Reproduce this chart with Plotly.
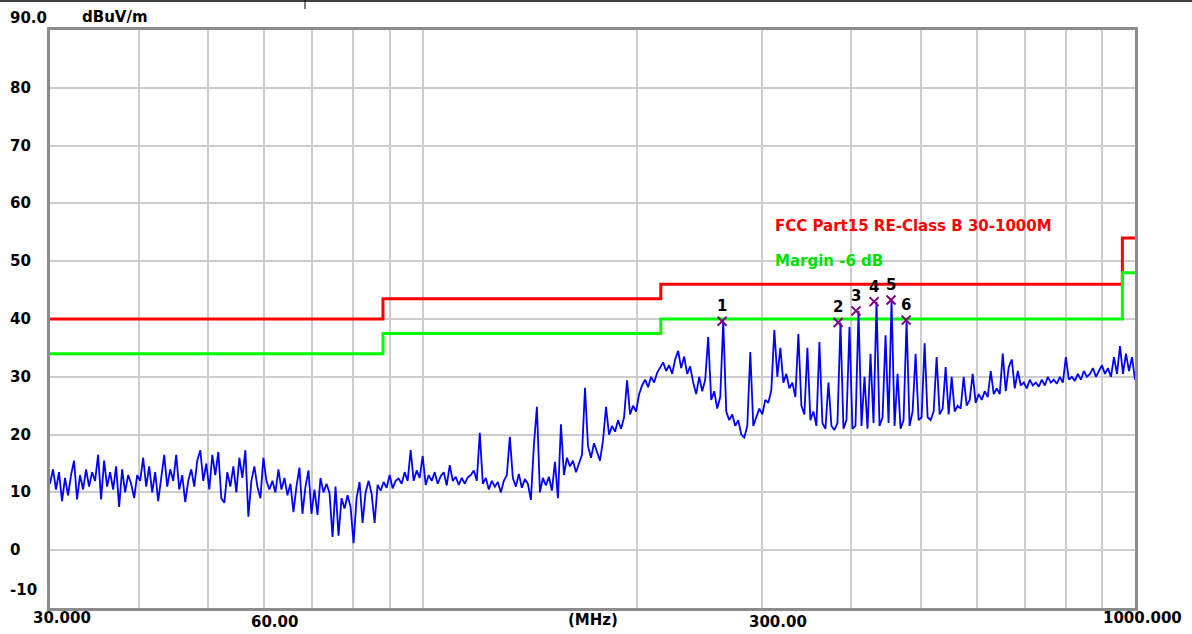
import numpy as np
import plotly.graph_objects as go

# ---------------- data ----------------
LEVEL = [
    11.5, 14, 10.5, 13.5, 8.5, 12.5, 9.5, 13, 15.5, 8.8,
    13, 10.5, 14, 11, 13.5, 12, 16.5, 8.8, 15.5, 11,
    13.5, 10.5, 14.5, 7.5, 14, 10, 13, 11.5, 9, 13,
    12, 16, 11, 14.5, 10, 13.5, 8.5, 12.5, 16.5, 11,
    14, 12, 16.5, 10.5, 13, 8.3, 12, 14, 11, 15.5,
    17.3, 12, 15, 10.5, 16.5, 13, 17, 9, 8.2, 13.5,
    11, 14.5, 10, 16, 12.5, 17.3, 5.8, 12, 14.5, 11,
    9, 16, 12, 10.5, 12, 10, 14, 10.5, 12.5, 9.5,
    11.5, 6.6, 11, 14.3, 6.3, 11, 13.8, 6.3, 10.5, 6.1,
    12.5, 10, 11.5, 9.9, 2.3, 11, 2.5, 9, 7.2, 9.5,
    7.5, 1.2, 9, 11.8, 4.7, 10, 12, 9.8, 4.7, 11.3,
    10.3, 11.8, 10.8, 13, 10.7, 12, 12.4, 11.5, 13.5, 12,
    17.3, 12, 13.8, 12.5, 16.3, 11.3, 13, 12, 13.5, 11.5,
    12.8, 13.5, 11.2, 14.7, 12, 12.7, 11.3, 12.5, 11.5, 12.6,
    13, 13.8, 12, 20.3, 11.5, 12.5, 10.5, 12, 11, 11.8,
    10, 12, 13, 19.6, 12.5, 11, 13.2, 10.8, 12.3, 11.5,
    8.7, 18.2, 24.8, 10, 12.5, 11.2, 12.7, 10.3, 15.3, 9,
    21.8, 13, 16, 14.5, 15.5, 13.5, 15, 16.5, 28.1, 18,
    16, 18.5, 17, 15.5, 19, 24.8, 20, 21.5, 20.5, 22.5,
    21, 23, 29.4, 23.5, 25, 24, 27, 28.5, 29.5, 28.2,
    30, 29, 30.7, 31.5, 32.5, 31, 32, 30.5, 33, 34.5,
    31.5, 33.5, 30.5, 31.8, 29, 27, 30, 27.5, 29.5, 36.9,
    26, 27.5, 24.5, 26.5, 39.6, 24, 22.5, 23.5, 21.5, 22.5,
    20, 19.5, 21.5, 34.3, 21.5, 23, 24.5, 23.5, 26, 25.5,
    27.7, 38.1, 30, 35, 29, 30.5, 28, 29, 26.5, 37.4,
    25, 23.5, 35, 22.5, 24, 21.5, 36, 22, 21, 29,
    21.5, 20.8, 22, 39.4, 21, 22.5, 38.6, 21, 21.5, 41.4,
    21.5, 30, 21, 34, 22, 43.0, 21.5, 23, 37.2, 22,
    43.3, 21.5, 30.5, 21, 22.5, 39.8, 21.5, 24, 34, 22.5,
    23, 35.8, 23, 22.5, 24, 33.4, 23.5, 24.5, 31.7, 23.5,
    30, 24, 25, 24.5, 30, 25, 26, 30.5, 25.5, 27,
    26, 27.5, 26.5, 31, 27, 28, 27, 34, 27.5, 31.7,
    33, 28, 31, 28.5, 29, 28, 29.5, 28.5, 29, 28.3,
    29.5, 28.5, 30, 29, 29.5, 28.8, 30, 29, 33.4, 29.5,
    30, 29.3, 30.5, 29.5, 31, 30, 30.5, 31.5, 30, 31,
    32, 30.5, 31.5, 30, 33.4, 30.5, 35.3, 30.5, 34, 31,
    33.4, 29.5,
]
SWEEP_START_MHZ = 30
SWEEP_STOP_MHZ = 1000
FREQ = np.geomspace(SWEEP_START_MHZ, SWEEP_STOP_MHZ, len(LEVEL))

LIMIT_FREQ = [30, 88, 88, 216, 216, 960, 960, 1000]
LIMIT_LEVEL = [40, 40, 43.5, 43.5, 46, 46, 54, 54]
MARGIN_LEVEL = [34, 34, 37.5, 37.5, 40, 40, 48, 48]

MARKER_NO = ["1", "2", "3", "4", "5", "6"]
MARKER_FREQ = [263.3, 383.1, 405.9, 430.3, 454.5, 477.3]
MARKER_LEVEL = [39.6, 39.4, 41.4, 43.0, 43.3, 39.8]

X_GRID = [40, 50, 60, 70, 80, 90, 100, 200, 300, 400, 500, 600, 700, 800, 900]
Y_GRID = [0, 10, 20, 30, 40, 50, 60, 70, 80]

X_TICK_VALUES = [30, 60, 300, 1000]
X_TICK_TEXT = ["30.000", "60.00", "300.00", "1000.000"]
Y_TICK_VALUES = [90, 80, 70, 60, 50, 40, 30, 20, 10, 0, -10]
Y_TICK_TEXT = ["90.0", "80", "70", "60", "50", "40", "30", "20", "10", "0", "-10"]

LIMIT_NAME = "FCC Part15 RE-Class B 30-1000M"
MARGIN_NAME = "Margin -6 dB"
Y_UNIT = "dBuV/m"
X_UNIT = "(MHz)"

# ---------------- figure ----------------
FONT = "DejaVu Sans"
fig = go.Figure()

fig.add_trace(go.Scatter(x=LIMIT_FREQ, y=LIMIT_LEVEL, mode="lines",
                         line=dict(color="#ff0000", width=3), hoverinfo="skip"))
fig.add_trace(go.Scatter(x=LIMIT_FREQ, y=MARGIN_LEVEL, mode="lines",
                         line=dict(color="#00ff00", width=3), hoverinfo="skip"))
fig.add_trace(go.Scatter(x=FREQ, y=LEVEL, mode="lines",
                         line=dict(color="#0000ff", width=1.8)))
fig.add_trace(go.Scatter(x=MARKER_FREQ, y=MARKER_LEVEL, mode="markers",
                         marker=dict(symbol="x-thin", size=9,
                                     line=dict(color="#800080", width=2))))

ann = []
for f, lv, t in zip(MARKER_FREQ, MARKER_LEVEL, MARKER_NO):
    ann.append(dict(x=np.log10(f), y=lv, xref="x", yref="y", text="<b>%s</b>" % t,
                    showarrow=False, yshift=15, font=dict(family=FONT, size=15, color="black")))

x_shift = [12, 10, 16, 7]
y_shift = [-9.5, -14, -14, -9.5]
for v, t, xs, ys in zip(X_TICK_VALUES, X_TICK_TEXT, x_shift, y_shift):
    ann.append(dict(x=np.log10(v), y=0, xref="x", yref="paper", text="<b>%s</b>" % t,
                    showarrow=False, xanchor="center", yanchor="middle",
                    xshift=xs, yshift=ys, font=dict(family=FONT, size=15, color="black")))
ann.append(dict(x=0.5, y=0, xref="paper", yref="paper", text="<b>%s</b>" % X_UNIT,
                showarrow=False, xanchor="center", yanchor="middle", yshift=-12,
                font=dict(family=FONT, size=15, color="black")))

for v, t in zip(Y_TICK_VALUES, Y_TICK_TEXT):
    ys = 0
    if v == 90:
        ys = 12
    elif v == -10:
        ys = 18.5
    ann.append(dict(x=0, y=v, xref="paper", yref="y", text="<b>%s</b>" % t,
                    showarrow=False, xanchor="left", yanchor="middle",
                    xshift=-42, yshift=ys, font=dict(family=FONT, size=15, color="black")))
ann.append(dict(x=0, y=90, xref="paper", yref="y", text="<b>%s</b>" % Y_UNIT,
                showarrow=False, xanchor="left", yanchor="middle",
                xshift=30, yshift=13, font=dict(family=FONT, size=15, color="black")))

# legend texts (limit name and margin name), placed over the plot area
ann.append(dict(x=(773 - 50) / 1085, y=(608 - 226) / 578, xref="paper", yref="paper",
                text="<b>%s</b>" % LIMIT_NAME, showarrow=False, xanchor="left",
                yanchor="middle", font=dict(family=FONT, size=15, color="#ff0000")))
ann.append(dict(x=(773 - 50) / 1085, y=(608 - 261) / 578, xref="paper", yref="paper",
                text="<b>%s</b>" % MARGIN_NAME, showarrow=False, xanchor="left",
                yanchor="middle", font=dict(family=FONT, size=15, color="#00e000")))

fig.update_layout(
    width=1192, height=634, autosize=False,
    margin=dict(l=50, r=57, t=30, b=26, pad=0),
    paper_bgcolor="white", plot_bgcolor="white",
    showlegend=False,
    annotations=ann,
    shapes=[
        dict(type="line", xref="paper", yref="paper", x0=-50 / 1085, x1=1142 / 1085,
             y0=607 / 578, y1=607 / 578, line=dict(color="black", width=1.5)),
        dict(type="line", xref="paper", yref="paper", x0=255 / 1085, x1=255 / 1085,
             y0=608 / 578, y1=599 / 578, line=dict(color="black", width=1)),
    ],
)
fig.update_xaxes(type="log", range=[np.log10(30), np.log10(1000)],
                 tickvals=X_GRID, showticklabels=False, ticks="",
                 showgrid=True, gridcolor="#cdcdcd", gridwidth=2,
                 showline=True, linecolor="#8c8c8c", linewidth=3, mirror=True,
                 zeroline=False)
fig.update_yaxes(range=[-10, 90], tickvals=Y_GRID, showticklabels=False, ticks="",
                 showgrid=True, gridcolor="#cdcdcd", gridwidth=2,
                 showline=True, linecolor="#8c8c8c", linewidth=3, mirror=True,
                 zeroline=False)

fig.write_html("out.html", config={"displayModeBar": False},
               post_script="document.body.style.margin='0';")
